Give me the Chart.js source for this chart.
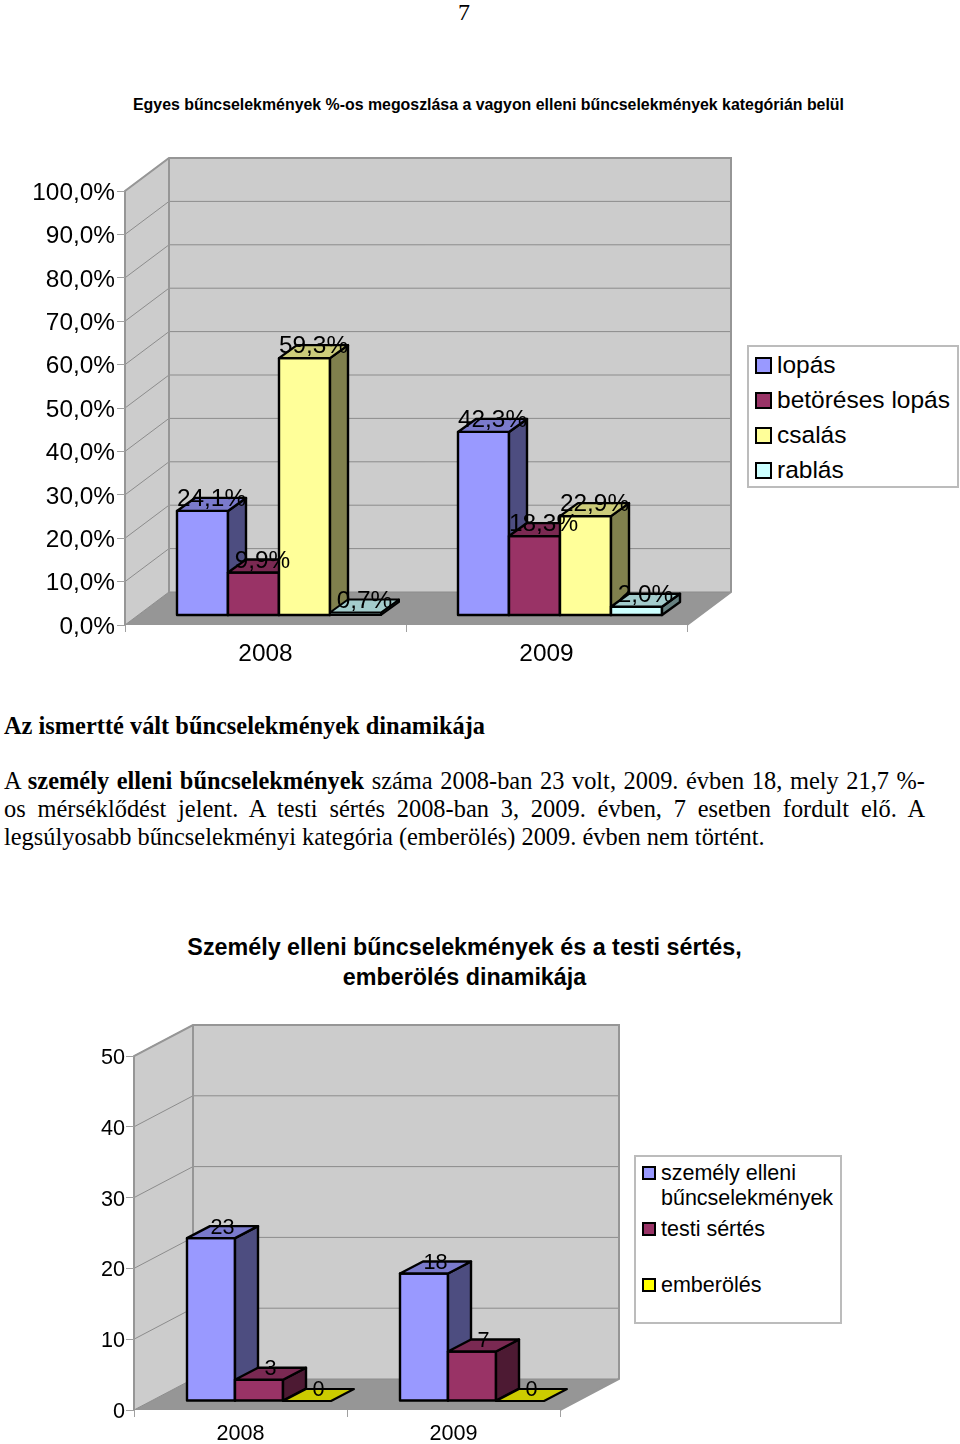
<!DOCTYPE html>
<html lang="hu">
<head>
<meta charset="utf-8">
<title>Bűncselekmények</title>
<script src="https://cdn.jsdelivr.net/npm/chart.js@4/dist/chart.umd.min.js"></script>
<style>
  html, body { margin: 0; padding: 0; background: #fff; }
  body { position: relative; width: 960px; height: 1444px; overflow: hidden; color: #000; }
  canvas { position: absolute; left: 0; }
  .t { position: absolute; white-space: nowrap; }
  .serif { font-family: "Liberation Serif", serif; }
  .sans { font-family: "Liberation Sans", sans-serif; }
  .line { left: 4px; width: 921px; font-size: 24.4px; line-height: 28px; text-align: justify; text-align-last: justify; }
  .legend { position: absolute; box-sizing: border-box; border: 2px solid #bcbcbc; background: #fff; font-family: "Liberation Sans", sans-serif; }
  .legend .sw { position: absolute; box-sizing: border-box; border: 2px solid #000; }
  .legend .lb { position: absolute; white-space: pre; }
</style>
</head>
<body>
<div class="t serif" style="left:458px;top:-2px;font-size:24px;line-height:28px">7</div>
<div class="t sans" style="left:133px;top:95px;font-size:15.9px;line-height:20px;font-weight:bold">Egyes bűncselekmények %-os megoszlása a vagyon elleni bűncselekmények kategórián belül</div>
<canvas id="shareChart" width="960" height="540" style="top:140px"></canvas>
<div class="legend" id="shareLegend" style="left:747px;top:345px;width:212px;height:143px;font-size:24.5px"></div>

<div class="t serif" style="left:4px;top:712px;font-size:24.4px;line-height:28px;font-weight:bold">Az ismertté vált bűncselekmények dinamikája</div>
<div class="t serif line" style="top:767px">A <b>személy elleni bűncselekmények</b> száma 2008-ban 23 volt, 2009. évben 18, mely 21,7 %-</div>
<div class="t serif line" style="top:795px">os mérséklődést jelent. A testi sértés 2008-ban 3, 2009. évben, 7 esetben fordult elő. A</div>
<div class="t serif" style="left:4px;top:823px;font-size:24.4px;line-height:28px">legsúlyosabb bűncselekményi kategória (emberölés) 2009. évben nem történt.</div>

<div class="t sans" style="left:0;width:929px;top:932px;font-size:23.3px;line-height:30px;font-weight:bold;text-align:center">Személy elleni bűncselekmények és a testi sértés,<br>emberölés dinamikája</div>
<canvas id="crimeChart" width="960" height="434" style="top:1010px"></canvas>
<div class="legend" id="crimeLegend" style="left:634px;top:1155px;width:208px;height:169px;font-size:21.5px"></div>

<script>
// chart 1 - share of property crimes
const years = ["2008", "2009"];
const shareTicks = [0, 10, 20, 30, 40, 50, 60, 70, 80, 90, 100];
const lopas = [24.1, 42.3];
const betoreses = [9.9, 18.3];
const csalas = [59.3, 22.9];
const rablas = [0.7, 2.0];
const shareNames = ["lopás", "betöréses lopás", "csalás", "rablás"];

// chart 2 - crimes against the person
const crimeTicks = [0, 10, 20, 30, 40, 50];
const szemelyElleni = [23, 18];
const testiSertes = [3, 7];
const emberoles = [0, 0];
const crimeNames = ["személy elleni\nbűncselekmények", "testi sértés", "emberölés"];

const shareColors = ["#9999FF", "#993366", "#FFFF99", "#CCFFFF"];
const crimeColors = ["#9999FF", "#993366", "#FFFF00"];
const FONT = "Liberation Sans";

function shade(hex, f) {
  const n = parseInt(hex.slice(1), 16);
  const r = Math.round((n >> 16) * f), g = Math.round(((n >> 8) & 255) * f), b = Math.round((n & 255) * f);
  return `rgb(${r},${g},${b})`;
}

function poly(ctx, pts, fill, stroke, lw) {
  ctx.beginPath();
  pts.forEach((p, i) => i ? ctx.lineTo(p[0], p[1]) : ctx.moveTo(p[0], p[1]));
  ctx.closePath();
  if (fill) { ctx.fillStyle = fill; ctx.fill(); }
  if (stroke) { ctx.strokeStyle = stroke; ctx.lineWidth = lw; ctx.stroke(); }
}

// walls and floor are painted before the axes, from the scales
const wallsPlugin = {
  id: "walls",
  beforeDraw(chart, args, o) {
    const ctx = chart.ctx, a = chart.chartArea, yS = chart.scales.y;
    const dx = o.dx, dy = o.dy;
    ctx.save();
    poly(ctx, [[a.left, a.top], [a.left + dx, a.top + dy], [a.left + dx, a.bottom + dy], [a.left, a.bottom]], "#CCCCCC");
    poly(ctx, [[a.left + dx, a.top + dy], [a.right + dx, a.top + dy], [a.right + dx, a.bottom + dy], [a.left + dx, a.bottom + dy]], "#CCCCCC");
    poly(ctx, [[a.left, a.bottom], [a.left + dx, a.bottom + dy], [a.right + dx, a.bottom + dy], [a.right, a.bottom]], "#969696");
    ctx.strokeStyle = "#8C8C8C";
    ctx.lineWidth = 1;
    yS.ticks.forEach(t => {
      const y = yS.getPixelForValue(t.value);
      ctx.beginPath();
      ctx.moveTo(a.left, y);
      ctx.lineTo(a.left + dx, y + dy);
      ctx.lineTo(a.right + dx, y + dy);
      ctx.stroke();
    });
    ctx.strokeStyle = "#969696";
    ctx.lineWidth = 2;
    ctx.beginPath();
    ctx.moveTo(a.left, a.bottom);
    ctx.lineTo(a.left, a.top);
    ctx.lineTo(a.left + dx, a.top + dy);
    ctx.lineTo(a.right + dx, a.top + dy);
    ctx.lineTo(a.right + dx, a.bottom + dy);
    ctx.lineTo(a.right, a.bottom);
    ctx.moveTo(a.left + dx, a.top + dy);
    ctx.lineTo(a.left + dx, a.bottom + dy);
    ctx.stroke();
    ctx.restore();
  }
};

// bars as boxes, drawn left to right so each front covers the previous side
const boxPlugin = {
  id: "boxes",
  beforeDatasetsDraw(chart, args, o) {
    const ctx = chart.ctx, n = chart.data.labels.length, count = chart.data.datasets.length;
    const labels = [];
    ctx.save();
    ctx.lineJoin = "round";
    for (let c = 0; c < n; c++) {
      for (let d = 0; d < count; d++) {
        const el = chart.getDatasetMeta(d).data[c];
        const col = chart.data.datasets[d].backgroundColor;
        const w = el.width;
        const l = el.x - w / 2 + o.shiftX, r = l + w;
        const t = el.y + o.shiftY, b = el.base + o.shiftY;
        const lw = b - t < 6 ? 2 : 2.4; // thin bars would vanish under the outline
        if (b - t > 0.5) {
          poly(ctx, [[l, t], [r, t], [r, b], [l, b]], col, "#000", lw);
          poly(ctx, [[r, t], [r + o.dx, t + o.dy], [r + o.dx, b + o.dy], [r, b]], shade(col, 0.5), "#000", lw);
        }
        poly(ctx, [[l, t], [r, t], [r + o.dx, t + o.dy], [l + o.dx, t + o.dy]], shade(col, 0.8), "#000", lw);
        labels.push([o.format(chart.data.datasets[d].data[c]), (l + r + o.dx) / 2, t + o.dy + 1.5]);
      }
    }
    ctx.fillStyle = "#000";
    ctx.font = o.labelFont;
    ctx.textAlign = "center";
    ctx.textBaseline = "middle";
    labels.forEach(p => ctx.fillText(p[0], p[1], p[2]));
    ctx.restore();
    return false;
  }
};

function makeLegend(id, names, colors, cfg) {
  const box = document.getElementById(id);
  names.forEach((name, i) => {
    const sw = document.createElement("div");
    sw.className = "sw";
    sw.style.cssText = `left:${cfg.swLeft}px;top:${cfg.rows[i] - cfg.sw / 2 + cfg.swNudge}px;width:${cfg.sw}px;height:${cfg.sw}px;background:${colors[i]}`;
    const lb = document.createElement("div");
    lb.className = "lb";
    lb.textContent = name;
    lb.style.cssText = `left:${cfg.textLeft}px;top:${cfg.rows[i] - cfg.lh / 2}px;line-height:${cfg.lh}px`;
    box.appendChild(sw);
    box.appendChild(lb);
  });
}

function makeChart(id, datasets, ticks, o) {
  const fontSpec = { family: FONT, size: o.fontSize };
  return new Chart(document.getElementById(id), {
    type: "bar",
    data: {
      labels: years,
      datasets: datasets.map((values, i) => ({ data: values, backgroundColor: o.colors[i], barPercentage: 1, categoryPercentage: o.catPct }))
    },
    plugins: [wallsPlugin, boxPlugin],
    options: {
      responsive: false,
      animation: false,
      devicePixelRatio: 1,
      layout: { padding: { top: o.top, right: o.right, left: 0, bottom: 0 } },
      plugins: {
        legend: { display: false },
        tooltip: { enabled: false },
        walls: { dx: o.wallDx, dy: o.wallDy },
        boxes: { dx: o.barDx, dy: o.barDy, shiftX: o.shiftX, shiftY: o.shiftY, format: o.format, labelFont: `${o.fontSize}px "${FONT}"` }
      },
      scales: {
        y: {
          min: ticks[0],
          max: ticks[ticks.length - 1],
          afterBuildTicks(s) { s.ticks = ticks.map(v => ({ value: v })); },
          afterFit(s) { s.width = o.left; },
          grid: { drawOnChartArea: false, drawTicks: true, tickLength: o.yTick, color: "#A0A0A0" },
          border: { display: false },
          ticks: { color: "#000", font: fontSpec, padding: o.yPad, autoSkip: false, labelOffset: 2, callback: o.format }
        },
        x: {
          afterFit(s) { s.height = o.xHeight; },
          grid: { drawOnChartArea: false, drawTicks: true, tickLength: 7, color: "#A0A0A0" },
          border: { display: false },
          ticks: { color: "#000", font: fontSpec, padding: o.xPad, maxRotation: 0 }
        }
      }
    }
  });
}

const pct = v => Number(v).toFixed(1).replace(".", ",") + "%";

makeChart("shareChart", [lopas, betoreses, csalas, rablas], shareTicks, {
  colors: shareColors, catPct: 204 / 281, format: pct, fontSize: 24.4,
  top: 51, left: 125, right: 273, xHeight: 55, yTick: 8, yPad: 2, xPad: 8,
  wallDx: 44, wallDy: -33, barDx: 18, barDy: -13, shiftX: 13.5, shiftY: -9.5
});

makeChart("crimeChart", [szemelyElleni, testiSertes, emberoles], crimeTicks, {
  colors: crimeColors, catPct: 144 / 213, format: v => String(v), fontSize: 21.6,
  top: 46, left: 134, right: 400, xHeight: 34, yTick: 8, yPad: 1, xPad: 4,
  wallDx: 59, wallDy: -31, barDx: 23, barDy: -12, shiftX: 18.5, shiftY: -9
});

makeLegend("shareLegend", shareNames, shareColors, { swLeft: 6, sw: 17, swNudge: 0, textLeft: 28, lh: 30, rows: [18, 53, 88, 123] });
makeLegend("crimeLegend", crimeNames, crimeColors, { swLeft: 6, sw: 14, swNudge: 0, textLeft: 25, lh: 25, rows: [16, 72, 128] });
</script>
</body>
</html>
